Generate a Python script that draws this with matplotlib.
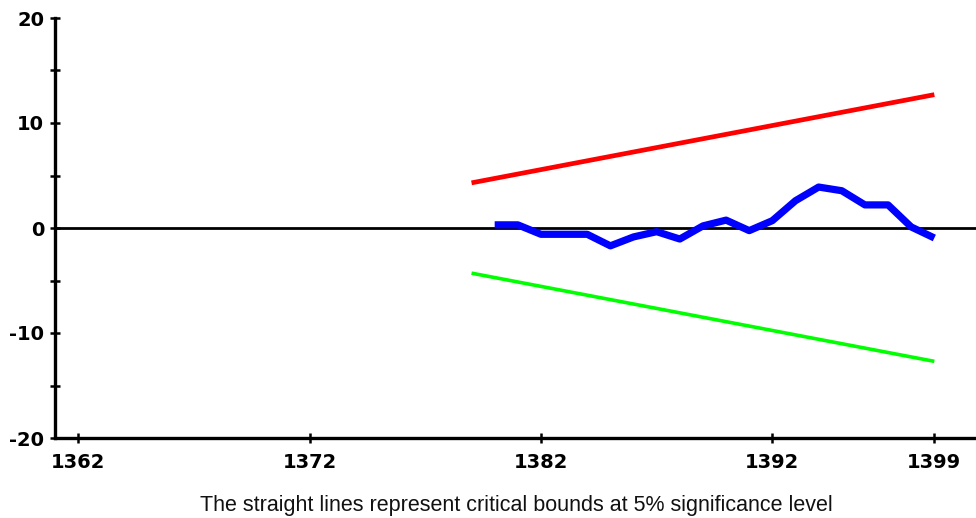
import matplotlib
matplotlib.use("Agg")
import matplotlib.pyplot as plt
from matplotlib.ticker import FixedLocator, MultipleLocator

plt.rcParams["axes.unicode_minus"] = False

# Data
cusum_years = list(range(1380, 1400))
cusum_values = [0.3, 0.3, -0.6, -0.6, -0.6, -1.7, -0.85, -0.35, -1.05, 0.2,
                0.75, -0.25, 0.7, 2.6, 3.9, 3.55, 2.2, 2.2, 0.1, -0.95]
bound_years = [1379, 1399]
upper_bound = [4.3, 12.7]
lower_bound = [-4.3, -12.7]
x_ticks = [1362, 1372, 1382, 1392, 1399]
y_ticks = [-20, -10, 0, 10, 20]
caption = "The straight lines represent critical bounds at 5% significance level"

fig = plt.figure(figsize=(9.76, 5.18), dpi=100)
ax = fig.add_axes([55/976, 80/518, 921/976, 420/518])

ax.axhline(0, color="black", lw=2.0, zorder=1)
ax.plot(bound_years, upper_bound, color="#ff0000", lw=3.4, solid_capstyle="butt", zorder=2)
ax.plot(bound_years, lower_bound, color="#00ff00", lw=2.6, solid_capstyle="butt", zorder=2)
ax.plot(cusum_years, cusum_values, color="#0000ff", lw=5.2, solid_capstyle="butt",
        solid_joinstyle="round", zorder=3)

ax.set_xlim(1361.0, 1400.8)
ax.set_ylim(-20, 20)

ax.spines["top"].set_visible(False)
ax.spines["right"].set_visible(False)
ax.spines["left"].set_linewidth(2.4)
ax.spines["bottom"].set_linewidth(2.4)

ax.xaxis.set_major_locator(FixedLocator(x_ticks))
ax.yaxis.set_major_locator(FixedLocator(y_ticks))
ax.yaxis.set_minor_locator(MultipleLocator(5))

ax.tick_params(axis="both", which="both", direction="inout", length=7.5, width=1.8, color="black")
ax.tick_params(axis="x", pad=7)
ax.tick_params(axis="y", pad=4)

for lab in ax.get_xticklabels() + ax.get_yticklabels():
    lab.set_fontfamily("DejaVu Sans")
    lab.set_fontweight("bold")
    lab.set_fontsize(14)

fig.text(516.5/976, 1 - 505/518, caption, ha="center", va="center",
         fontsize=15.5, family=["Liberation Sans", "DejaVu Sans"], color="#111111")

fig.savefig("out.png", dpi=100)
